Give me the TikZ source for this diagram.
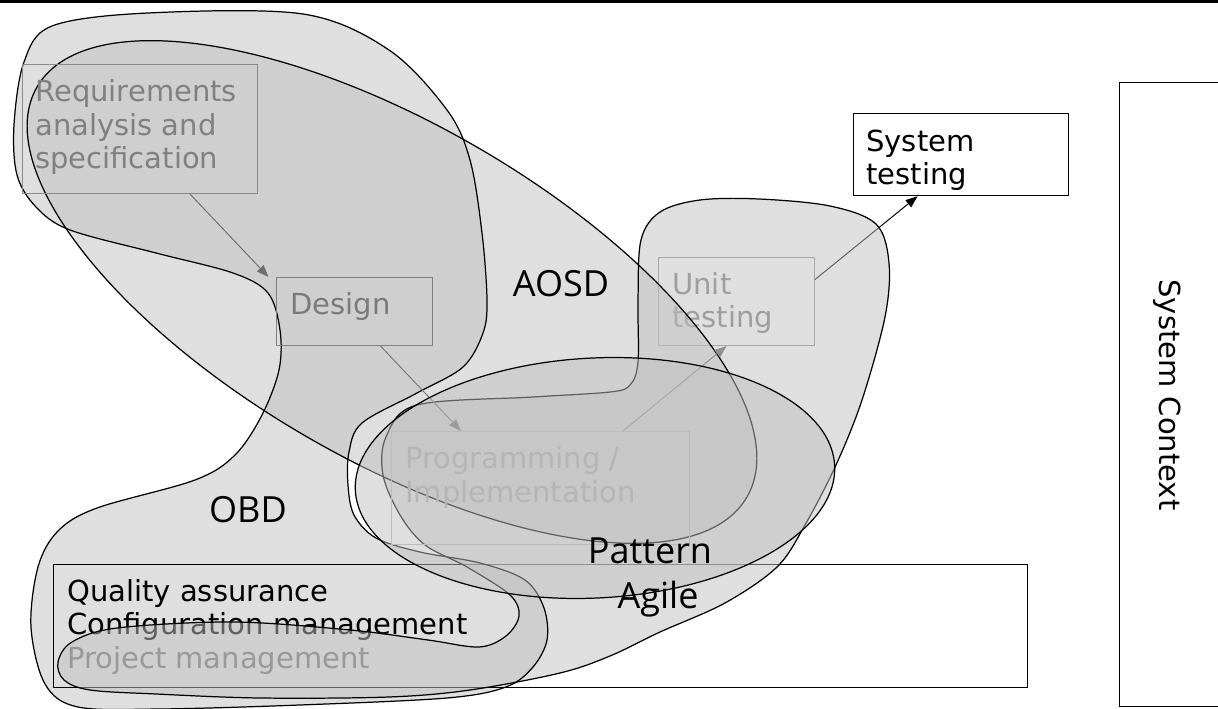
\documentclass[tikz,border=0pt]{standalone}
\usepackage{fontspec}
\setmainfont{DejaVu Sans}
\newfontfamily\labelfont{Open Sans}
\usetikzlibrary{arrows.meta}

% outlines of the overlapping areas (pixel grid, y downwards)
\def\obdpath{plot[smooth cycle, tension=0.55] coordinates {(14,125) (24,62) (52,26) (148,13) (303,14) (389,50) (447,110) (470,160) (482,233) (487,300) (483,333) (463,367) (417,393) (362,423) (349,452) (348,485) (354,515) (376,538) (420,552) (480,563) (525,580) (544,608) (547,640) (533,667) (506,687) (447,698) (300,705) (160,709) (78,707) (45,684) (31,627) (38,567) (58,531) (97,508) (195,480) (235,455) (262,415) (279,370) (280,330) (268,293) (233,273) (156,253) (70,230) (36,207) (17,175)}}
\def\aosdpath{(392,292) ellipse [x radius=8.2cm, y radius=3.36cm, rotate=-30]}
\def\agilepath{plot[smooth cycle, tension=0.55] coordinates {(759,199) (830,206) (876,224) (889,263) (885,317) (862,400) (836,465) (805,525) (777,567) (725,603) (660,632) (610,656) (560,673) (470,690) (389,697) (260,698) (156,694) (90,690) (64,680) (58,662) (72,642) (117,628) (233,622) (350,630) (428,640) (479,647) (506,636) (519,616) (510,595) (467,567) (425,545) (400,515) (383,475) (386,437) (417,405) (533,397) (610,392) (630,385) (638,362) (638,300) (641,240) (660,212) (700,200)}}
\def\patternpath{(595,478) ellipse [x radius=4.8cm, y radius=2.4cm, rotate=3]}

\begin{document}
\begin{tikzpicture}[x=0.02cm, y=-0.02cm,
        blob_fill/.style={fill=gray!50, fill opacity=0.5},
        blob_line/.style={draw=black, line width=0.7pt},
        box_style/.style={draw, line width=0.6pt, inner sep=0pt, anchor=north west},
        text_style/.style={anchor=north west, align=left, inner sep=0pt, font=\fontsize{16.5}{19}\selectfont},
        label_style/.style={anchor=base, inner sep=0pt, font=\labelfont\fontsize{20.5}{24}\selectfont},
        arrow_style/.style={-{Triangle[length=0.24cm, width=0.18cm]}, line width=0.55pt}]

    \useasboundingbox (0,0) rectangle (1218,709);
    \fill (0,0) rectangle (1218,3.5);

    \fill[blob_fill] \obdpath;

    \node[box_style, line width=0.7pt, minimum width=19.48cm, minimum height=2.46cm] (mgmt) at (53,564) {};
    \node[text_style] (mgmttext) at ([shift={(14,15)}]mgmt.north west) {Quality assurance\\Configuration management\\\textcolor{black!55}{Project management}};

    \node[box_style, draw=black!44, minimum width=3.12cm, minimum height=1.76cm] (unit) at (658,257) {};
    \node[text_style, text=black!51] (unittext) at ([shift={(14,15)}]unit.north west) {Unit\\testing};
    \node[box_style, fill=white, line width=0.7pt, minimum width=4.3cm, minimum height=1.64cm] (systest) at (853,113) {};
    \node[text_style] (systesttext) at ([shift={(13,16.5)}]systest.north west) {System\\testing};
    \draw[arrow_style] ([yshift=0.44cm]unit.east) -- ([xshift=-0.87cm]systest.south);

    \fill[blob_fill] \aosdpath;
    \fill[blob_fill] \agilepath;
    \draw[blob_line] \obdpath;
    \draw[blob_line] \aosdpath;
    \draw[blob_line] \agilepath;

    \node[box_style, draw=black!46, minimum width=4.7cm, minimum height=2.58cm] (req) at (22,64) {};
    \node[text_style, text=black!50] (reqtext) at ([shift={(13,15.5)}]req.north west) {Requirements\\analysis and\\specification};
    \node[box_style, draw=black!50, minimum width=3.12cm, minimum height=1.36cm] (design) at (276,277) {};
    \node[text_style, text=black!52] (designtext) at ([shift={(14,15.5)}]design.north west) {Design};
    \draw[arrow_style, black!57] ([xshift=1cm]req.south) -- ([xshift=-0.15cm]design.north west);

    \node[box_style, draw=black!27, minimum width=5.96cm, minimum height=2.26cm] (prog) at (391,431) {};
    \node[text_style, text=black!33] (progtext) at ([shift={(14,15.5)}]prog.north west) {Programming /\\Implementation};
    \draw[arrow_style, black!53] ([xshift=0.52cm]design.south) -- ([xshift=1.4cm]prog.north west);
    \draw[arrow_style, black!44] ([xshift=4.64cm]prog.north west) -- ([xshift=-0.2cm]unit.south);

    \draw[blob_fill, blob_line] \patternpath;

    \node[box_style, line width=0.7pt, minimum width=2.4cm, minimum height=12.48cm] (context) at (1119,82) {};
    \node[rotate=-90, inner sep=0pt, font=\fontsize{16.5}{19}\selectfont] (contexttext) at (1167,395) {System Context};

    \node[label_style] (aosd) at (561,297) {AOSD};
    \node[label_style] (obd) at (248,523) {OBD};
    \node[label_style] (pattern) at (650,563) {Pattern};
    \node[label_style] (agile) at (658,608) {Agile};

\end{tikzpicture}
\end{document}
